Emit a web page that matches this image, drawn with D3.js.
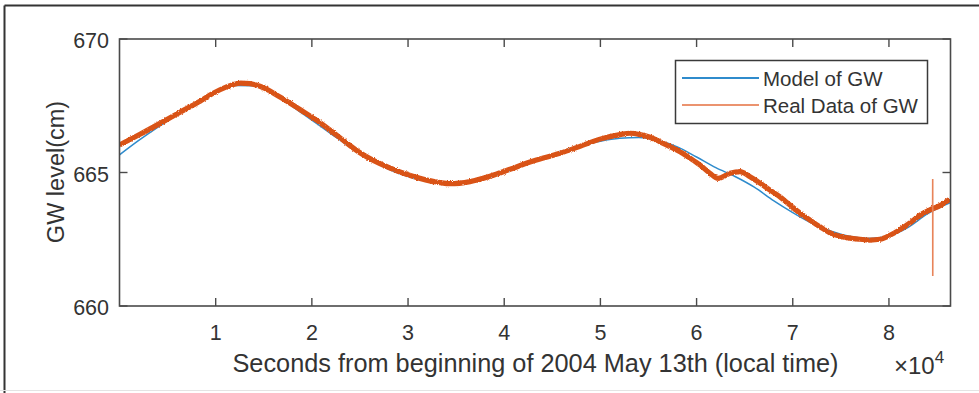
<!DOCTYPE html>
<html>
<head>
<meta charset="utf-8">
<script src="https://cdn.jsdelivr.net/npm/d3@7/dist/d3.min.js"></script>
<style>
  html, body { margin: 0; padding: 0; background: #fff; }
  svg { display: block; font-family: "Liberation Sans", Arial, sans-serif; }
</style>
</head>
<body>
<svg id="chart" width="979" height="393"></svg>
<script>
// Seconds since the start of the day (local time)
const realTimes = [0, 2131, 4211, 6290, 8370, 9409, 10449, 11700, 12600, 13568, 14607, 16687, 18766,
  20846, 22926, 25005, 27085, 29164, 31244, 33323, 34363, 36442, 38522, 40601, 42681, 44760, 45800,
  47879, 49959, 52038, 53078, 54118, 55157, 56197, 57237, 58276, 59316, 60356, 61395, 62227,
  63474, 64514, 65554, 66593, 67633, 68672, 69712, 70752, 71791, 72831, 73870, 74910, 75950,
  76989, 78029, 79068, 80108, 81148, 82187, 83227, 84266, 85306, 86345];
// Measured groundwater level (cm)
const realLevels = [666.03, 666.43, 666.84, 667.26, 667.67, 667.90, 668.10, 668.28, 668.35, 668.33,
  668.23, 667.83, 667.36, 666.87, 666.30, 665.74, 665.33, 665.02, 664.78, 664.62, 664.58, 664.66,
  664.86, 665.12, 665.39, 665.61, 665.72, 665.98, 666.25, 666.42, 666.47, 666.42, 666.32, 666.15,
  665.97, 665.78, 665.54, 665.28, 664.97, 664.78, 664.97, 665.03, 664.84, 664.60, 664.34, 664.09,
  663.78, 663.48, 663.22, 662.97, 662.74, 662.61, 662.54, 662.50, 662.47, 662.50, 662.65, 662.86,
  663.11, 663.40, 663.60, 663.76, 664.00];
// Short burst of outlier samples in the measured record
const spikeTimes = [84540, 84550, 84556, 84562];
const spikeLevels = [663.62, 664.76, 661.12, 663.64];

// Fitted model of groundwater level (cm)
const modelTimes = [0, 2000, 4000, 6000, 8000, 10000, 12000, 14000, 16000, 18000, 20000, 22000,
  24000, 26000, 28000, 30000, 32000, 34000, 36000, 38000, 40000, 42000, 44000, 46000, 48000,
  50000, 52000, 54000, 56000, 58000, 60000, 62000, 64000, 66000, 68000, 70000, 72000, 74000,
  76000, 78000, 80000, 82000, 84000, 86400];
const modelLevels = [665.66, 666.20, 666.70, 667.16, 667.58, 668.00, 668.26, 668.25, 667.95, 667.47,
  666.96, 666.45, 665.95, 665.50, 665.12, 664.85, 664.68, 664.60, 664.63, 664.78, 665.00, 665.27,
  665.54, 665.79, 666.00, 666.17, 666.28, 666.31, 666.20, 665.96, 665.58, 665.18, 664.85, 664.45,
  663.95, 663.50, 663.10, 662.80, 662.60, 662.53, 662.62, 662.95, 663.45, 663.87];

const xTicks = [10000, 20000, 30000, 40000, 50000, 60000, 70000, 80000];
const yTicks = [660, 665, 670];
const seriesNames = ["Model of GW", "Real Data of GW"];

const svg = d3.select("#chart");
const pLeft = 119.5, pRight = 950.5, pTop = 39, pBottom = 306;
const x = d3.scaleLinear().domain([0, 86400]).range([pLeft, pRight]);
const y = d3.scaleLinear().domain([660, 670]).range([pBottom, pTop]);

const axisColor = "#4a4a4a", textColor = "#333";
const blue = "#2f8bcc", orange = "#d95319";

// outer figure frame
svg.append("line").attr("x1", 4.5).attr("x2", 979).attr("y1", 5.5).attr("y2", 5.5)
  .attr("stroke", "#333").attr("stroke-width", 2);
svg.append("line").attr("x1", 4.5).attr("x2", 4.5).attr("y1", 5.5).attr("y2", 393)
  .attr("stroke", "#333").attr("stroke-width", 2);
svg.append("line").attr("x1", 0).attr("x2", 979).attr("y1", 390.5).attr("y2", 390.5)
  .attr("stroke", "#e4e4e4").attr("stroke-width", 1);

// roughened edge for the noisy measured trace
const defs = svg.append("defs");
const f = defs.append("filter").attr("id", "rough").attr("x", "-5%").attr("y", "-20%")
  .attr("width", "110%").attr("height", "140%");
f.append("feTurbulence").attr("type", "fractalNoise").attr("baseFrequency", "1.3")
  .attr("numOctaves", 2).attr("seed", 5).attr("result", "n");
f.append("feDisplacementMap").attr("in", "SourceGraphic").attr("in2", "n")
  .attr("scale", 2.6).attr("xChannelSelector", "R").attr("yChannelSelector", "G");
defs.append("clipPath").attr("id", "plotClip").append("rect")
  .attr("x", pLeft).attr("y", pTop).attr("width", pRight - pLeft).attr("height", pBottom - pTop);

const line = d3.line().x(d => x(d[0])).y(d => y(d[1])).curve(d3.curveMonotoneX);
const modelData = modelTimes.map((t, i) => [t, modelLevels[i]]);
const realData = realTimes.map((t, i) => [t, realLevels[i]]);
const spikeData = spikeTimes.map((t, i) => [t, spikeLevels[i]]);

const plot = svg.append("g").attr("clip-path", "url(#plotClip)");
plot.append("path").datum(modelData).attr("d", line)
  .attr("fill", "none").attr("stroke", blue).attr("stroke-width", 1.5);
plot.append("path").datum(realData).attr("d", line)
  .attr("fill", "none").attr("stroke", orange).attr("stroke-width", 5.2)
  .attr("stroke-linejoin", "round").attr("filter", "url(#rough)");
plot.append("path").datum(spikeData)
  .attr("d", d3.line().x(d => x(d[0])).y(d => y(d[1])))
  .attr("fill", "none").attr("stroke", "#e8845a").attr("stroke-width", 1.6);

// axes box with inward ticks on all four sides
const tickLen = 8;
const axG = svg.append("g");
axG.append("rect").attr("x", pLeft).attr("y", pTop).attr("width", pRight - pLeft).attr("height", pBottom - pTop)
  .attr("fill", "none").attr("stroke", axisColor).attr("stroke-width", 1.6);
xTicks.forEach(t => {
  axG.append("line").attr("x1", x(t)).attr("x2", x(t)).attr("y1", pBottom).attr("y2", pBottom - tickLen)
    .attr("stroke", axisColor).attr("stroke-width", 1.4);
  axG.append("line").attr("x1", x(t)).attr("x2", x(t)).attr("y1", pTop).attr("y2", pTop + tickLen)
    .attr("stroke", axisColor).attr("stroke-width", 1.4);
  axG.append("text").attr("x", x(t)).attr("y", 340).attr("text-anchor", "middle")
    .attr("font-size", 21.5).attr("fill", textColor).text(t / 10000);
});
yTicks.forEach(v => {
  axG.append("line").attr("x1", pLeft).attr("x2", pLeft + tickLen).attr("y1", y(v)).attr("y2", y(v))
    .attr("stroke", axisColor).attr("stroke-width", 1.4);
  axG.append("line").attr("x1", pRight).attr("x2", pRight - tickLen).attr("y1", y(v)).attr("y2", y(v))
    .attr("stroke", axisColor).attr("stroke-width", 1.4);
  axG.append("text").attr("x", 109).attr("y", y(v) + 9).attr("text-anchor", "end")
    .attr("font-size", 21.5).attr("fill", textColor).text(v);
});

// axis titles
svg.append("text").attr("x", 535.5).attr("y", 372).attr("text-anchor", "middle")
  .attr("font-size", 25.3).attr("fill", textColor)
  .text("Seconds from beginning of 2004 May 13th (local time)");
svg.append("text").attr("transform", "translate(64,172) rotate(-90)").attr("text-anchor", "middle")
  .attr("font-size", 23.5).attr("fill", textColor).text("GW level(cm)");

// exponent marker for the x axis
const ex = svg.append("text").attr("x", 894).attr("y", 374).attr("font-size", 24).attr("fill", textColor);
ex.append("tspan").text("×10");
ex.append("tspan").attr("dy", -11).attr("font-size", 17).text("4");

// legend
const lg = svg.append("g");
lg.append("rect").attr("x", 675.5).attr("y", 60.5).attr("width", 252).attr("height", 63)
  .attr("fill", "#fff").attr("stroke", "#3a3a3a").attr("stroke-width", 1.5);
const legendColors = [blue, "#e46f3f"];
const legendWidths = [1.8, 1.3];
seriesNames.forEach((name, i) => {
  const ly = 78 + i * 27;
  lg.append("line").attr("x1", 682).attr("x2", 759).attr("y1", ly).attr("y2", ly)
    .attr("stroke", legendColors[i]).attr("stroke-width", legendWidths[i]);
  lg.append("text").attr("x", 763).attr("y", ly + 7.5).attr("font-size", 20.5)
    .attr("fill", textColor).text(name);
});
</script>
</body>
</html>
